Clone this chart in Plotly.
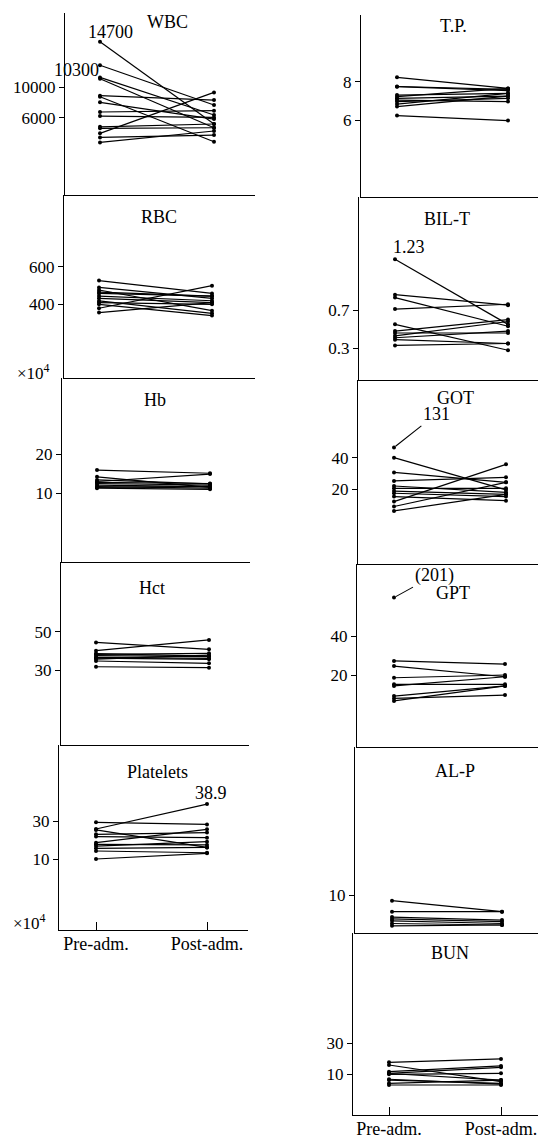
import plotly.graph_objects as go

W, H = 538, 1141
FONT = "Liberation Serif, Times New Roman, serif"

# ---------------- data (pre-admission / post-admission pairs) ----------------
WBC_PRE = [16000, 12900, 11300, 11130, 8900, 8760, 8020, 6750, 6220, 4800, 4600, 3940, 3410, 2750]
WBC_POST = [5170, 7670, 6350, 4680, 8320, 2840, 5820, 6920, 6040, 5170, 4680, 9330, 3720, 4250]
WBC_TICKS = [6000, 10000]

RBC_PRE = [526, 490, 476, 458, 444, 432, 418, 409, 400, 379, 356, 465]
RBC_POST = [458, 432, 366, 444, 419, 409, 352, 400, 340, 499, 409, 444]
RBC_TICKS = [400, 600]

HB_PRE = [15.9, 14.2, 13.4, 13.0, 12.5, 12.1, 11.7, 11.3, 12.8, 11.5]
HB_POST = [15.1, 11.5, 12.4, 14.9, 12.1, 11.7, 11.3, 11.0, 12.5, 11.8]
HB_TICKS = [10, 20]

HCT_PRE = [44.4, 40.1, 38.2, 37.5, 36.6, 35.7, 34.7, 31.7, 38.6, 36.2]
HCT_POST = [40.8, 45.7, 38.7, 37.0, 36.1, 37.8, 33.5, 31.2, 37.2, 35.6]
HCT_TICKS = [30, 50]

PLT_PRE = [29.3, 25.8, 25.3, 23.0, 21.8, 18.6, 17.7, 16.8, 15.6, 14.2, 10.0]
PLT_POST = [28.2, 38.9, 16.1, 23.9, 21.2, 25.6, 17.4, 19.1, 16.1, 13.3, 13.0]
PLT_TICKS = [10, 30]

TP_PRE = [8.23, 7.74, 7.30, 7.22, 7.13, 7.04, 6.96, 6.83, 6.70, 6.23, 7.75]
TP_POST = [7.65, 7.53, 7.39, 7.65, 7.25, 6.96, 7.13, 7.39, 7.25, 5.97, 7.60]
TP_TICKS = [6, 8]

BIL_PRE = [1.23, 0.86, 0.83, 0.71, 0.55, 0.48, 0.46, 0.43, 0.41, 0.39, 0.33]
BIL_POST = [0.55, 0.75, 0.53, 0.76, 0.28, 0.60, 0.46, 0.58, 0.48, 0.35, 0.35]
BIL_TICKS = [0.3, 0.7]

GOT_PRE = [40.0, 30.7, 25.3, 22.1, 20.6, 18.9, 17.5, 15.4, 12.2, 9.1, 6.3]
GOT_POST = [19.6, 24.4, 27.6, 18.1, 20.6, 16.8, 15.4, 12.8, 35.8, 24.4, 16.8]
GOT_TICKS = [20, 40]
GOT_OFFSCALE = 46.5          # plotted position of off-scale case
GOT_OFFSCALE_LABEL = "131"

GPT_PRE = [27.2, 24.6, 18.6, 15.2, 14.4, 9.2, 8.0, 6.7]
GPT_POST = [25.6, 19.1, 20.0, 15.2, 19.1, 14.4, 9.7, 14.4]
GPT_TICKS = [20, 40]
GPT_OFFSCALE = 59.7
GPT_OFFSCALE_LABEL = "(201)"

ALP_PRE = [8.5, 5.6, 4.2, 3.7, 3.2, 2.5, 1.9]
ALP_POST = [5.6, 5.6, 3.4, 3.0, 2.5, 2.1, 2.1]
ALP_TICKS = [10]

BUN_PRE = [17.7, 16.0, 11.7, 10.6, 10.0, 6.3, 4.2, 3.1, 10.5, 6.8]
BUN_POST = [19.9, 5.3, 15.4, 14.5, 10.6, 4.2, 6.3, 3.1, 6.3, 3.6]
BUN_TICKS = [10, 30]

X_LABELS = ["Pre-adm.", "Post-adm."]

PANELS = [
    ("WBC", WBC_PRE, WBC_POST, WBC_TICKS),
    ("RBC", RBC_PRE, RBC_POST, RBC_TICKS),
    ("Hb", HB_PRE, HB_POST, HB_TICKS),
    ("Hct", HCT_PRE, HCT_POST, HCT_TICKS),
    ("Platelets", PLT_PRE, PLT_POST, PLT_TICKS),
    ("T.P.", TP_PRE, TP_POST, TP_TICKS),
    ("BIL-T", BIL_PRE, BIL_POST, BIL_TICKS),
    ("GOT", GOT_PRE, GOT_POST, GOT_TICKS),
    ("GPT", GPT_PRE, GPT_POST, GPT_TICKS),
    ("AL-P", ALP_PRE, ALP_POST, ALP_TICKS),
    ("BUN", BUN_PRE, BUN_POST, BUN_TICKS),
]

# ---------------- layout geometry (pixels) ----------------
GEOM = {
    "WBC": dict(t=13, b=195, a=65, p0=100, p1=214, r=255, cal=[(10000, 87.3), (6000, 117.7)], title=(167, 22)),
    "RBC": dict(t=195, b=378, a=64, p0=99, p1=212, r=255, cal=[(600, 266.7), (400, 304.3)], title=(159, 217)),
    "Hb": dict(t=378, b=562, a=62, p0=97, p1=210, r=250, cal=[(20, 454), (10, 493.3)], title=(155, 400)),
    "Hct": dict(t=562, b=745, a=61, p0=96, p1=209, r=249, cal=[(50, 631.7), (30, 670)], title=(152, 588)),
    "Platelets": dict(t=745, b=930, a=59, p0=96, p1=207, r=248, cal=[(30, 821), (10, 859)], title=(157, 772)),
    "T.P.": dict(t=15, b=197, a=361, p0=397, p1=508, r=538, cal=[(8, 81.7), (6, 120)], title=(453, 26)),
    "BIL-T": dict(t=197, b=380, a=359, p0=395, p1=508, r=538, cal=[(0.7, 310), (0.3, 348.3)], title=(447, 219)),
    "GOT": dict(t=380, b=564, a=358, p0=394, p1=506, r=538, cal=[(40, 457.7), (20, 489.3)], title=(455, 398)),
    "GPT": dict(t=564, b=747, a=357, p0=394, p1=505, r=538, cal=[(40, 636), (20, 675)], title=(453, 593)),
    "AL-P": dict(t=747, b=933, a=355, p0=392, p1=502, r=538, cal=[(10, 895), (0, 933)], title=(455, 771)),
    "BUN": dict(t=933, b=1115, a=353, p0=389, p1=501, r=538, cal=[(30, 1043.3), (10, 1074.3)], title=(450, 953)),
}
BOTTOM_PANELS = {"Platelets", "BUN"}

LW = 1.3
fig = go.Figure()
annotations = []
layout_axes = {}

for i, (name, pre, post, ticks) in enumerate(PANELS, start=1):
    g = GEOM[name]
    xs, ys = [], []
    for a, b in zip(pre, post):
        xs += [0, 1, None]
        ys += [a, b, None]
    xa = "x" if i == 1 else f"x{i}"
    ya = "y" if i == 1 else f"y{i}"
    fig.add_trace(go.Scatter(x=xs, y=ys, mode="lines+markers", xaxis=xa, yaxis=ya,
                             line=dict(color="black", width=1.2),
                             marker=dict(color="black", size=4), hoverinfo="skip",
                             cliponaxis=False))
    (v1, q1), (v2, q2) = g["cal"]
    slope = (v1 - v2) / (q2 - q1)
    yr = [v1 + (q1 - g["b"]) * slope, v1 + (q1 - g["t"]) * slope]
    sp = g["p1"] - g["p0"]
    xr = [(g["a"] - g["p0"]) / sp, (g["r"] - g["p0"]) / sp]
    bottom = name in BOTTOM_PANELS
    layout_axes[f"xaxis{i if i > 1 else ''}"] = dict(
        domain=[g["a"] / W, min(g["r"] / W, 1.0)], range=xr, anchor=ya,
        showgrid=False, zeroline=False, showline=True, linecolor="black", linewidth=LW,
        tickvals=[0, 1] if bottom else [], ticktext=X_LABELS if bottom else [],
        ticks="inside" if bottom else "", ticklen=8, tickwidth=LW, tickcolor="black",
        showticklabels=bottom, ticklabelstandoff=-3,
        tickfont=dict(family=FONT, size=18, color="black"),
        fixedrange=True)
    layout_axes[f"yaxis{i if i > 1 else ''}"] = dict(
        domain=[1 - g["b"] / H, 1 - g["t"] / H], range=yr, anchor=xa,
        showgrid=False, zeroline=False, showline=True, linecolor="black", linewidth=LW,
        tickvals=ticks, ticktext=[str(t) for t in ticks],
        ticks="outside", ticklen=5, tickwidth=LW, tickcolor="black",
        tickfont=dict(family=FONT, size=17, color="black"), fixedrange=True)
    tx, ty = g["title"]
    annotations.append(dict(text=name, x=tx / W, y=1 - ty / H, xref="paper", yref="paper",
                            showarrow=False, xanchor="center", yanchor="middle",
                            font=dict(family=FONT, size=18, color="black")))

for idx, val in ((8, GOT_OFFSCALE), (9, GPT_OFFSCALE)):
    fig.add_trace(go.Scatter(x=[0], y=[val], mode="markers", xaxis=f"x{idx}", yaxis=f"y{idx}",
                             marker=dict(color="black", size=4), hoverinfo="skip", cliponaxis=False))

txtfont = dict(family=FONT, size=18, color="black")
annotations += [
    dict(text="14700", x=0, y=WBC_PRE[0], xref="x", yref="y", showarrow=False,
         xshift=10, yshift=10, font=txtfont),
    dict(text="10300", x=0, y=WBC_PRE[1], xref="x", yref="y", showarrow=False,
         xshift=-24, yshift=-5, font=txtfont),
    dict(text="38.9", x=1, y=PLT_POST[1], xref="x5", yref="y5", showarrow=False,
         xshift=4, yshift=11, font=txtfont),
    dict(text="1.23", x=0, y=BIL_PRE[0], xref="x7", yref="y7", showarrow=False,
         xshift=14, yshift=12, font=txtfont),
    dict(text=GOT_OFFSCALE_LABEL, x=0, y=GOT_OFFSCALE, xref="x8", yref="y8", showarrow=True,
         arrowhead=0, arrowwidth=1.1, arrowcolor="black", ax=42, ay=-33, standoff=2, font=txtfont),
    dict(text=GPT_OFFSCALE_LABEL, x=0, y=GPT_OFFSCALE, xref="x9", yref="y9", showarrow=True,
         arrowhead=0, arrowwidth=1.1, arrowcolor="black", ax=40, ay=-22, standoff=2, font=txtfont),
    dict(text="×10<sup>4</sup>", x=33 / W, y=1 - 372 / H, xref="paper", yref="paper",
         xanchor="center", yanchor="middle",
         showarrow=False, font=dict(family=FONT, size=17, color="black")),
    dict(text="×10<sup>4</sup>", x=29 / W, y=1 - 922 / H, xref="paper", yref="paper",
         xanchor="center", yanchor="middle",
         showarrow=False, font=dict(family=FONT, size=17, color="black")),
]

fig.update_layout(width=W, height=H, margin=dict(l=0, r=0, t=0, b=0, pad=0),
                  template="none", showlegend=False,
                  plot_bgcolor="white", paper_bgcolor="white",
                  annotations=annotations, **layout_axes)

# remove the browser's default 8px body margin so the figure fills the window exactly
fig.write_html("out.html", config={"displayModeBar": False},
               post_script="document.body.style.margin='0';document.body.style.overflow='hidden';")
